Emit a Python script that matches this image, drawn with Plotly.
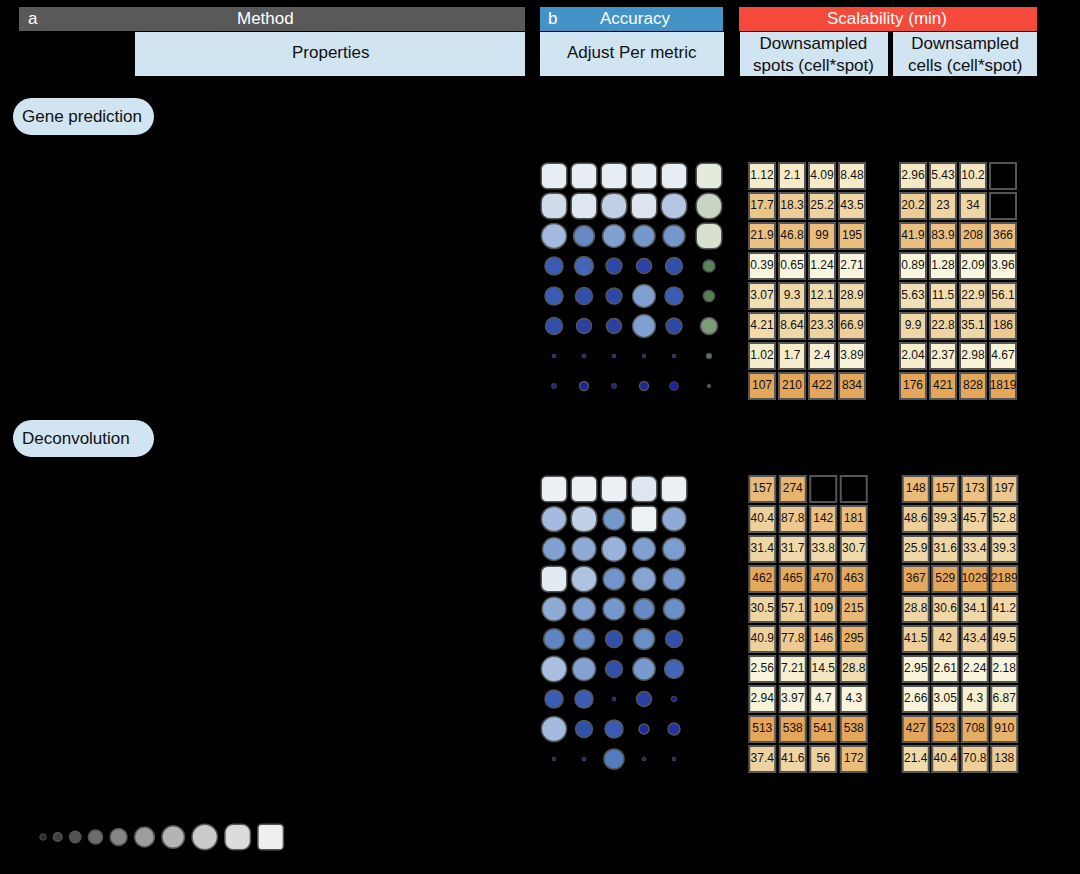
import numpy as np
import plotly.graph_objects as go
from plotly.colors import sample_colorscale

W, H = 1080, 874

# ---------------- data ----------------
gene_acc = [
    [0.95, 0.95, 0.95, 0.95, 0.95],
    [0.89, 0.93, 0.84, 0.92, 0.82],
    [0.79, 0.64, 0.71, 0.68, 0.68],
    [0.54, 0.57, 0.46, 0.43, 0.50],
    [0.54, 0.50, 0.46, 0.71, 0.54],
    [0.50, 0.43, 0.43, 0.71, 0.46],
    [0.00, 0.00, 0.00, 0.00, 0.00],
    [0.04, 0.21, 0.04, 0.21, 0.18],
]
gene_overall = [0.95, 0.82, 0.90, 0.32, 0.29, 0.50, 0.07, 0.00]
gene_spots = [
    [1.12, 2.1, 4.09, 8.48],
    [17.7, 18.3, 25.2, 43.5],
    [21.9, 46.8, 99, 195],
    [0.39, 0.65, 1.24, 2.71],
    [3.07, 9.3, 12.1, 28.9],
    [4.21, 8.64, 23.3, 66.9],
    [1.02, 1.7, 2.4, 3.89],
    [107, 210, 422, 834],
]
gene_cells = [
    [2.96, 5.43, 10.2, None],
    [20.2, 23, 34, None],
    [41.9, 83.9, 208, 366],
    [0.89, 1.28, 2.09, 3.96],
    [5.63, 11.5, 22.9, 56.1],
    [9.9, 22.8, 35.1, 186],
    [2.04, 2.37, 2.98, 4.67],
    [176, 421, 828, 1819],
]
deconv_acc = [
    [0.97, 0.97, 0.97, 0.93, 0.97],
    [0.79, 0.84, 0.68, 0.98, 0.75],
    [0.71, 0.75, 0.77, 0.71, 0.70],
    [0.94, 0.81, 0.67, 0.73, 0.68],
    [0.75, 0.71, 0.68, 0.64, 0.65],
    [0.63, 0.64, 0.50, 0.65, 0.50],
    [0.80, 0.72, 0.50, 0.69, 0.57],
    [0.54, 0.54, 0.00, 0.43, 0.07],
    [0.79, 0.50, 0.54, 0.25, 0.32],
    [0.00, 0.00, 0.61, 0.00, 0.00],
]
deconv_spots = [
    [157, 274, None, None],
    [40.4, 87.8, 142, 181],
    [31.4, 31.7, 33.8, 30.7],
    [462, 465, 470, 463],
    [30.5, 57.1, 109, 215],
    [40.9, 77.8, 146, 295],
    [2.56, 7.21, 14.5, 28.8],
    [2.94, 3.97, 4.7, 4.3],
    [513, 538, 541, 538],
    [37.4, 41.6, 56, 172],
]
deconv_cells = [
    [148, 157, 173, 197],
    [48.6, 39.3, 45.7, 52.8],
    [25.9, 31.6, 33.4, 39.3],
    [367, 529, 1029, 2189],
    [28.8, 30.6, 34.1, 41.2],
    [41.5, 42, 43.4, 49.5],
    [2.95, 2.61, 2.24, 2.18],
    [2.66, 3.05, 4.3, 6.87],
    [427, 523, 708, 910],
    [21.4, 40.4, 70.8, 138],
]
legend_values = [0.1, 0.2, 0.3, 0.4, 0.5, 0.6, 0.7, 0.8, 0.9, 1.0]

# ---------------- styles ----------------
BLUES = [[0.0, "#1a1f8f"], [0.2, "#1c259a"], [0.3, "#2130a0"], [0.43, "#2a40a5"],
         [0.5, "#3050ac"], [0.54, "#3a5cb5"], [0.57, "#4466b8"], [0.6, "#4f78bd"],
         [0.65, "#6a8fc7"], [0.7, "#7b9dd0"], [0.75, "#8eaad5"], [0.8, "#a9bee0"],
         [0.85, "#c5d3e8"], [0.9, "#d3deec"], [0.95, "#e6edf3"], [1.0, "#f0f4f6"]]
GREENS = [[0.0, "#555a55"], [0.07, "#56705a"], [0.3, "#587f55"], [0.5, "#7a9c77"],
          [0.82, "#c9d5c3"], [0.9, "#d6e1cf"], [0.95, "#e3ebdc"], [1.0, "#eaf0e6"]]
GREYS = [[0.0, "#1e1e1e"], [0.1, "#2e2e2e"], [0.3, "#545454"], [0.5, "#868686"],
         [0.7, "#b4b4b4"], [0.8, "#cacaca"], [0.9, "#dcdcdc"], [1.0, "#efefef"]]
ORANGES = [[0.0, "#f8f5dc"], [0.2, "#f5ebc8"], [0.4, "#f0dcae"], [0.6, "#edcb94"],
           [0.8, "#e9b977"], [1.0, "#e3a65a"]]
OUTLINE = "#555555"
FONT = "Liberation Sans, Arial, sans-serif"
LIGHT = "#d1e4f1"

fig = go.Figure()
layout = {}
shapes = []
annotations = []


def px_x(x):
    return x / W


def px_y(y):
    return 1 - y / H


def make_axes(i, xpx, ypx, n_x, n_y, xr=None, yr=None):
    xs = "" if i == 1 else str(i)
    layout["xaxis" + xs] = dict(domain=[px_x(xpx[0]), px_x(xpx[1])],
                                range=xr if xr else [-0.5, n_x - 0.5],
                                visible=False, fixedrange=True, anchor="y" + xs)
    layout["yaxis" + xs] = dict(domain=[px_y(ypx[1]), px_y(ypx[0])],
                                range=yr if yr else [n_y - 0.5, -0.5],
                                visible=False, fixedrange=True, anchor="x" + xs)
    return "x" + xs, "y" + xs


def rrect_path(hw, hh, r):
    k = 0.5523 * r
    return (f"M {-hw + r},{-hh} L {hw - r},{-hh} C {hw - r + k},{-hh} {hw},{-hh + r - k} {hw},{-hh + r} "
            f"L {hw},{hh - r} C {hw},{hh - r + k} {hw - r + k},{hh} {hw - r},{hh} "
            f"L {-hw + r},{hh} C {-hw + r - k},{hh} {-hw},{hh - r + k} {-hw},{hh - r} "
            f"L {-hw},{-hh + r} C {-hw},{-hh + r - k} {-hw + r - k},{-hh} {-hw + r},{-hh} Z")


def circ_size(v):
    return 4.5 + 28 * v


def add_funky(xs, ys, vals, xref, yref, cscale):
    cx, cy, cv, cs, lw = [], [], [], [], []
    for x, y, v in zip(xs, ys, vals):
        if v <= 0.8:
            d = circ_size(v)
            w = 1.5 if d >= 10 else 0.8
            cx.append(x); cy.append(y); cv.append(v); cs.append(d - w); lw.append(w)
        else:
            h = 12.75
            r = h * (1 - 0.7 * min(1.0, (v - 0.8) / 0.2))
            col = sample_colorscale(cscale, [v])[0]
            shapes.append(dict(type="path", xref=xref, yref=yref,
                               xsizemode="pixel", ysizemode="pixel",
                               xanchor=x, yanchor=y, path=rrect_path(h, h, r),
                               fillcolor=col, line=dict(color=OUTLINE, width=1.5)))
    fig.add_trace(go.Scatter(
        x=cx, y=cy, mode="markers", xaxis=xref, yaxis=yref, showlegend=False,
        hoverinfo="skip",
        marker=dict(size=cs, color=cv, colorscale=cscale, cmin=0, cmax=1, opacity=1,
                    line=dict(color=OUTLINE, width=lw))))


def add_acc(mat, xref, yref, cscale):
    xs, ys, vs = [], [], []
    for ri, row in enumerate(mat):
        for ci, v in enumerate(row):
            xs.append(ci); ys.append(ri); vs.append(v)
    add_funky(xs, ys, vs, xref, yref, cscale)


def add_cells(mat, xref, yref):
    arr = np.array([[np.nan if v is None else v for v in row] for row in mat], dtype=float)
    lg = np.log(arr)
    mn = np.nanmin(lg, axis=0)
    mx = np.nanmax(lg, axis=0)
    norm = (lg - mn) / (mx - mn)
    xs, ys, cs, ts = [], [], [], []
    ex, ey = [], []
    for ri in range(arr.shape[0]):
        for ci in range(arr.shape[1]):
            if np.isnan(arr[ri, ci]):
                ex.append(ci); ey.append(ri)
            else:
                xs.append(ci); ys.append(ri); cs.append(norm[ri, ci])
                ts.append(f"{arr[ri, ci]:g}")
    fig.add_trace(go.Scatter(
        x=xs, y=ys, mode="markers+text", text=ts, textposition="middle center",
        textfont=dict(family=FONT, size=12, color="#111111"),
        xaxis=xref, yaxis=yref, showlegend=False, hoverinfo="skip",
        marker=dict(symbol="square", size=26, color=cs, colorscale=ORANGES, opacity=1,
                    cmin=0, cmax=1, line=dict(color=OUTLINE, width=2))))
    if ex:
        fig.add_trace(go.Scatter(
            x=ex, y=ey, mode="markers", xaxis=xref, yaxis=yref, showlegend=False,
            hoverinfo="skip",
            marker=dict(symbol="square", size=26, color="black", opacity=1,
                        line=dict(color=OUTLINE, width=2))))


# ---------------- subplots ----------------
ga_x, ga_y = make_axes(1, (539, 689), (161, 401), 5, 8)
add_acc(gene_acc, ga_x, ga_y, BLUES)

go_x, go_y = make_axes(2, (694, 724), (161, 401), 1, 8)
add_acc([[v] for v in gene_overall], go_x, go_y, GREENS)

gs_x, gs_y = make_axes(3, (747, 867), (161, 401), 4, 8)
add_cells(gene_spots, gs_x, gs_y)

gc_x, gc_y = make_axes(4, (898, 1018), (161, 401), 4, 8)
add_cells(gene_cells, gc_x, gc_y)

da_x, da_y = make_axes(5, (539, 689), (474, 774), 5, 10)
add_acc(deconv_acc, da_x, da_y, BLUES)

ds_x, ds_y = make_axes(6, (747, 869), (474, 774), 4, 10)
add_cells(deconv_spots, ds_x, ds_y)

dc_x, dc_y = make_axes(7, (901, 1019), (474, 774), 4, 10)
add_cells(deconv_cells, dc_x, dc_y)

# legend (pixel-unit axis)
lg_x, lg_y = make_axes(8, (0, 1000), (817, 857), 1, 1, xr=[0, 1000], yr=[20, -20])
leg_d = [circ_size(v) if v <= 0.8 else 27 for v in legend_values]
leg_x = [43.0]
for a, b in zip(leg_d[:-1], leg_d[1:]):
    leg_x.append(leg_x[-1] + a / 2 + b / 2 + 6.0)
add_funky(leg_x, [0] * len(leg_x), legend_values, lg_x, lg_y, GREYS)


# ---------------- header boxes ----------------
def box(x0, y0, x1, y1, color):
    shapes.append(dict(type="rect", xref="paper", yref="paper", layer="below",
                       x0=px_x(x0), x1=px_x(x1), y0=px_y(y1), y1=px_y(y0),
                       fillcolor=color, line=dict(width=0)))


def label(x, y, text, color="#111111", size=17, anchor="center"):
    annotations.append(dict(xref="paper", yref="paper", x=px_x(x), y=px_y(y),
                            text=text, showarrow=False, xanchor=anchor, yanchor="middle",
                            font=dict(family=FONT, size=size, color=color)))


box(19, 7, 525, 31, "#595959")
box(135, 32, 525, 76, LIGHT)
box(540, 7, 723, 31, "#4393c6")
box(540, 32, 724, 76, LIGHT)
box(739, 7, 1037, 31, "#f5493b")
box(740, 32, 888, 76, LIGHT)
box(893, 32, 1037, 76, LIGHT)

label(26, 19, "a", "white", anchor="left")
label(265, 19, "Method", "white")
label(330, 53, "Properties")
label(546, 19, "b", "white", anchor="left")
label(635, 19, "Accuracy", "white")
label(632, 53, "Adjust Per metric")
label(887, 19, "Scalability (min)", "white")
label(813, 54, "Downsampled<br>spots (cell*spot)")
label(965, 54, "Downsampled<br>cells (cell*spot)")

for cy, txt in [(116.5, "Gene prediction"), (438.5, "Deconvolution")]:
    shapes.append(dict(type="path", xref="paper", yref="paper", layer="below",
                       xsizemode="pixel", ysizemode="pixel",
                       xanchor=px_x(83.5), yanchor=px_y(cy),
                       path=rrect_path(70.5, 18.5, 18.5),
                       fillcolor=LIGHT, line=dict(width=0)))
    label(20, cy, txt, anchor="left")

fig.update_layout(
    width=W, height=H,
    margin=dict(l=0, r=0, t=0, b=0),
    paper_bgcolor="black", plot_bgcolor="rgba(0,0,0,0)",
    showlegend=False, shapes=shapes, annotations=annotations,
    **layout,
)

page_css = ("document.body.style.margin='0';"
            "document.body.style.background='black';"
            "document.body.style.overflow='hidden';"
            "document.documentElement.style.background='black';")
fig.write_html("out.html", post_script=page_css,
               config={"displayModeBar": False, "staticPlot": True})
